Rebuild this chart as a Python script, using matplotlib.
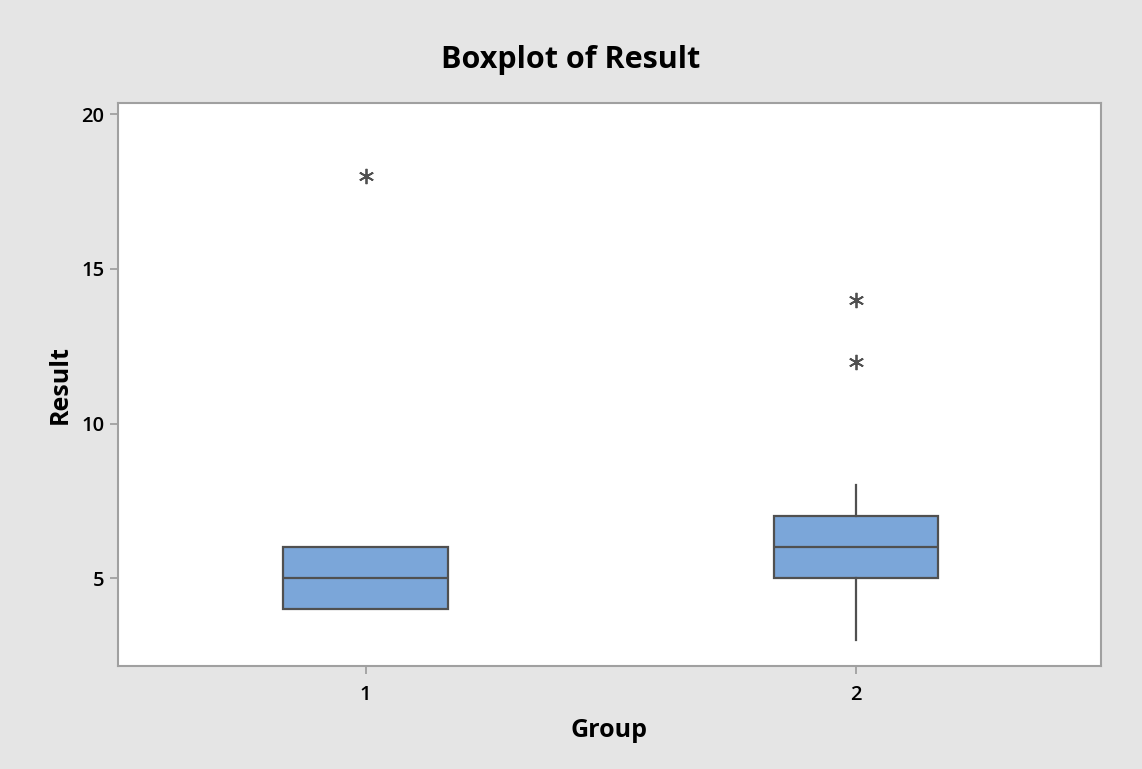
import matplotlib
matplotlib.use("Agg")
import matplotlib.pyplot as plt

groups = ["1", "2"]
q1 = [4, 5]
medians = [5, 6]
q3 = [6, 7]
whisker_low = [4, 3]
whisker_high = [6, 8]
outliers = [[18], [14, 12]]
yticks = [5, 10, 15, 20]

plt.rcParams['font.family'] = ['Open Sans', 'DejaVu Sans']

fig = plt.figure(figsize=(11.42, 7.69), dpi=100)
fig.patch.set_facecolor('#E5E5E5')
ax = fig.add_axes([118/1142, 1 - 666/769, (1101-118)/1142, (666-103)/769])
ax.set_facecolor('white')

stats = []
for i in range(len(groups)):
    stats.append(dict(label=groups[i], q1=q1[i], med=medians[i], q3=q3[i],
                      whislo=whisker_low[i], whishi=whisker_high[i],
                      fliers=outliers[i]))

edge = '#505050'
ax.bxp(stats, positions=[1, 2], widths=0.335, patch_artist=True,
       showcaps=False,
       boxprops=dict(facecolor='#7BA6D9', edgecolor=edge, linewidth=1.6),
       medianprops=dict(color=edge, linewidth=1.6),
       whiskerprops=dict(color=edge, linewidth=1.6),
       flierprops=dict(marker=(6, 2, 0), markersize=11, markeredgecolor='#505050',
                       markeredgewidth=1.3, linestyle='none'))

ax.set_xlim(0.495, 2.5)
ax.set_ylim(2.155, 20.37)
ax.set_yticks(yticks)
ax.set_yticklabels([str(v) for v in yticks])
ax.set_xticks([1, 2])
ax.set_xticklabels(groups)

for s in ax.spines.values():
    s.set_color('#A0A0A0')
    s.set_linewidth(1.5)
ax.tick_params(axis='both', colors='#A0A0A0', length=6, width=1.3, labelcolor='black',
               labelsize=14.5)
ax.tick_params(axis='x', pad=8)
ax.tick_params(axis='y', pad=4)
for lab in ax.get_xticklabels() + ax.get_yticklabels():
    lab.set_fontweight('semibold')

ax.set_xlabel("Group", fontsize=18, fontweight='bold', labelpad=9)
ax.set_ylabel("Result", fontsize=18, fontweight='bold', labelpad=6)
fig.text(0.5, 1 - 60/769, "Boxplot of Result", ha='center', va='center',
         fontsize=22, fontweight='bold')

fig.savefig("out.png", dpi=100, facecolor=fig.get_facecolor())
